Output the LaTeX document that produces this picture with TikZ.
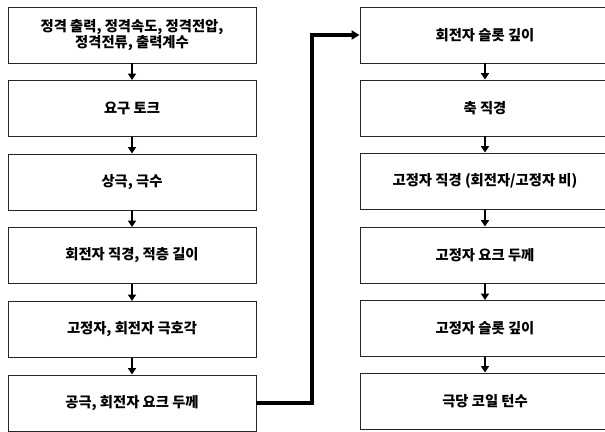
\documentclass[tikz,border=0pt]{standalone}
\usepackage{fontspec}
\setmainfont{Noto Sans CJK KR}
\usetikzlibrary{arrows.meta}
\tikzset{
  box/.style={draw=black!85, line width=0.9pt, fill=white, minimum height=56pt, inner sep=0pt, align=center, font=\fontsize{14.3}{16}\selectfont\bfseries},
  lbox/.style={box, minimum width=248pt},
  rbox/.style={box, minimum width=250pt},
  flow/.style={line width=2.4pt, -{Triangle[length=6.5pt,width=8pt]}},
  link/.style={line width=3.2pt, -{Triangle[length=8pt,width=9pt]}}
}
\begin{document}
\begin{tikzpicture}[x=1pt,y=-1pt]
\clip (0,0) rectangle (605,431);
\node[lbox] (l1) at (132,35) {정격 출력, 정격속도, 정격전압,\\정격전류, 출력계수};
\node[lbox] (l2) at (132,108.5) {요구 토크};
\node[lbox] (l3) at (132,182) {상극, 극수};
\node[lbox] (l4) at (132,255.5) {회전자 직경, 적층 길이};
\node[lbox] (l5) at (132,329.5) {고정자, 회전자 극호각};
\node[lbox] (l6) at (132,403) {공극, 회전자 요크 두께};
\node[rbox] (r1) at (485,35) {회전자 슬롯 깊이};
\node[rbox] (r2) at (485,108) {축 직경};
\node[rbox] (r3) at (485,181) {고정자 직경 (회전자/고정자 비)};
\node[rbox] (r4) at (485,255) {고정자 요크 두께};
\node[rbox] (r5) at (485,328.5) {고정자 슬롯 깊이};
\node[rbox] (r6) at (485,401) {극당 코일 턴수};
\foreach \a/\b in {l1/l2,l2/l3,l3/l4,l4/l5,l5/l6,r1/r2,r2/r3,r3/r4,r4/r5,r5/r6}
  \draw[flow] (\a.south) -- (\b.north);
\coordinate (bend) at (312,200);
\draw[link] (l6.east) -| (bend) |- (r1.west);
\end{tikzpicture}
\end{document}
